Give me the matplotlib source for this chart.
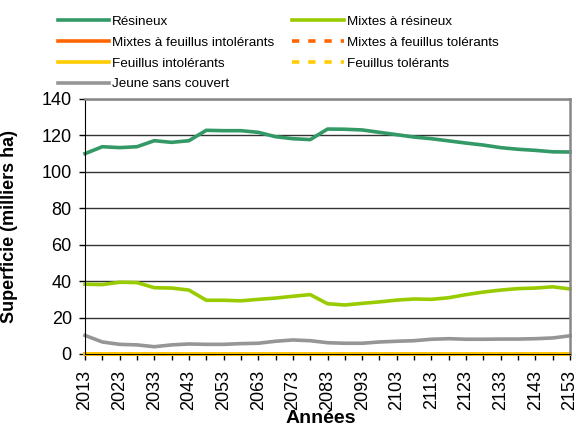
import matplotlib.pyplot as plt
import numpy as np

plt.rcParams['font.family'] = ['Liberation Sans', 'DejaVu Sans']

annees = list(range(2013, 2154, 5))

resineux = [110, 113.8, 113.3, 113.8, 117.1, 116.2, 117.1, 122.8, 122.6, 122.6,
            121.7, 119.3, 118.2, 117.7, 123.5, 123.4, 123.0, 121.7, 120.4, 119.1,
            118.2, 117.0, 115.8, 114.7, 113.3, 112.4, 111.8, 111.0, 110.9]
mixtes_resineux = [38.3, 38.1, 39.4, 39.2, 36.4, 36.2, 35.1, 29.5, 29.5, 29.2,
                   30.0, 30.7, 31.7, 32.6, 27.6, 26.9, 27.8, 28.6, 29.6, 30.2,
                   30.0, 30.9, 32.6, 34.0, 35.1, 35.9, 36.2, 36.9, 35.7]
jeune = [10.2, 6.6, 5.3, 5.0, 4.0, 5.0, 5.5, 5.3, 5.3, 5.7,
         5.9, 7.0, 7.7, 7.3, 6.2, 5.9, 5.9, 6.6, 7.0, 7.3,
         8.1, 8.4, 8.1, 8.1, 8.2, 8.2, 8.4, 8.8, 10.0]
mixtes_feu_intol = [0] * len(annees)
mixtes_feu_tol = [0] * len(annees)
feuillus_intol = [0] * len(annees)
feuillus_tol = [0] * len(annees)

fig = plt.figure(figsize=(5.76, 4.28), dpi=100)
ax = fig.add_axes([0.1476, 0.1729, 0.842, 0.5958])

lw = 2.6
l1, = ax.plot(annees, resineux, color='#339966', lw=lw, label='Résineux')
l2, = ax.plot(annees, mixtes_resineux, color='#99CC00', lw=lw, label='Mixtes à résineux')
l3, = ax.plot(annees, mixtes_feu_intol, color='#FF6600', lw=lw, label='Mixtes à feuillus intolérants')
l4, = ax.plot(annees, mixtes_feu_tol, color='#FF6600', lw=lw, ls=(0, (2, 2.5)), label='Mixtes à feuillus tolérants')
l5, = ax.plot(annees, feuillus_intol, color='#FFCC00', lw=lw, label='Feuillus intolérants')
l6, = ax.plot(annees, feuillus_tol, color='#FFCC00', lw=lw, ls=(0, (2, 2.5)), label='Feuillus tolérants')
l7, = ax.plot(annees, jeune, color='#969696', lw=lw, label='Jeune sans couvert')
for l in [l1, l2, l3, l4, l5, l6, l7]:
    l.set_clip_on(False)

ax.set_xlim(2013, 2153)
ax.set_ylim(0, 140)
ax.set_yticks(range(0, 141, 20))
ax.set_xticks(range(2013, 2154, 10))
ax.set_xticks(range(2013, 2154, 5), minor=True)
ax.tick_params(axis='x', which='both', direction='out', length=4.5, width=1,
               labelrotation=90, labelsize=13, pad=7)
ax.tick_params(axis='y', direction='out', length=4.5, width=1, labelsize=13, pad=5)
ax.yaxis.grid(True, color='#333333', lw=1)
ax.set_axisbelow(True)
for s in ['top', 'right']:
    ax.spines[s].set_color('#888888')
    ax.spines[s].set_linewidth(1.8)
ax.spines['left'].set_color('black')
ax.spines['bottom'].set_color('black')

ax.set_xlabel('Années', fontsize=14, fontweight='bold', va='top')
ax.xaxis.set_label_coords(0.487, -0.218)
ax.set_ylabel('Superficie (milliers ha)', fontsize=13, fontweight='bold')
ax.yaxis.set_label_coords(-0.138, 0.5)

handles = [l1, l3, l5, l7, l2, l4, l6]
fig.legend(handles=handles, labels=[h.get_label() for h in handles], ncol=2,
           loc='upper left', bbox_to_anchor=(0.079, 0.992), frameon=False,
           fontsize=9.7, handlelength=3.85, handletextpad=0.2,
           columnspacing=1.3, labelspacing=0.62)

fig.savefig('out.png', dpi=100)
